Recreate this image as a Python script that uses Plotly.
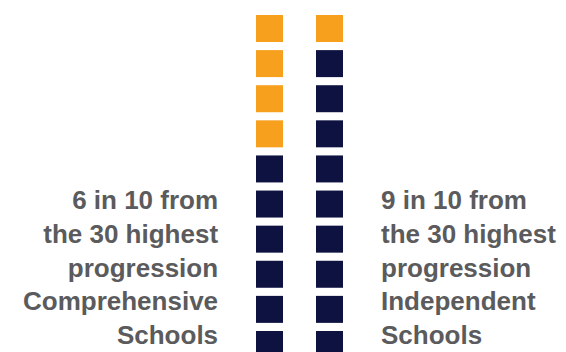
import plotly.graph_objects as go

# Data
school_types = ["Comprehensive Schools", "Independent Schools"]
from_top30 = [6, 9]          # out of 10 (navy squares)
total_units = 10
label_lines = [
    ["6 in 10 from", "the 30 highest", "progression", "Comprehensive", "Schools"],
    ["9 in 10 from", "the 30 highest", "progression", "Independent", "Schools"],
]

ORANGE = "#F6A01D"
NAVY = "#0E1240"
TEXT = "#5B5B5D"

fig = go.Figure()
for ci, (name, n) in enumerate(zip(school_types, from_top30)):
    rows = list(range(total_units))
    colors = [ORANGE if r < total_units - n else NAVY for r in rows]
    fig.add_trace(go.Scatter(
        x=[ci] * total_units, y=rows, mode="markers", name=name,
        marker=dict(symbol="square", size=27, color=colors, line=dict(width=0)),
        hoverinfo="skip", showlegend=False,
    ))

W, H = 566, 352
OFF = 8  # page body margin
px_per_x = 60.0
x0_px = 269.5 - OFF
pitch = 35.11
y0_px = 28.5 - OFF

fig.update_xaxes(range=[-x0_px / px_per_x, (W - x0_px) / px_per_x],
                 visible=False, fixedrange=True)
fig.update_yaxes(range=[(H - y0_px) / pitch, -y0_px / pitch],
                 visible=False, fixedrange=True)

font = dict(family="Liberation Sans, Arial, sans-serif", size=26, color=TEXT)
fig.add_annotation(text="<b>" + "<br>".join(label_lines[0]) + "</b>",
                   xref="paper", yref="paper", x=(220 - OFF) / W, y=1 - (267 - OFF) / H,
                   xanchor="right", yanchor="middle", align="right",
                   showarrow=False, font=font)
fig.add_annotation(text="<b>" + "<br>".join(label_lines[1]) + "</b>",
                   xref="paper", yref="paper", x=(379 - OFF) / W, y=1 - (267 - OFF) / H,
                   xanchor="left", yanchor="middle", align="left",
                   showarrow=False, font=font)

fig.update_layout(width=W, height=H, margin=dict(l=0, r=0, t=0, b=0),
                  paper_bgcolor="white", plot_bgcolor="white")

fig.write_html("out.html", config={"displayModeBar": False})
